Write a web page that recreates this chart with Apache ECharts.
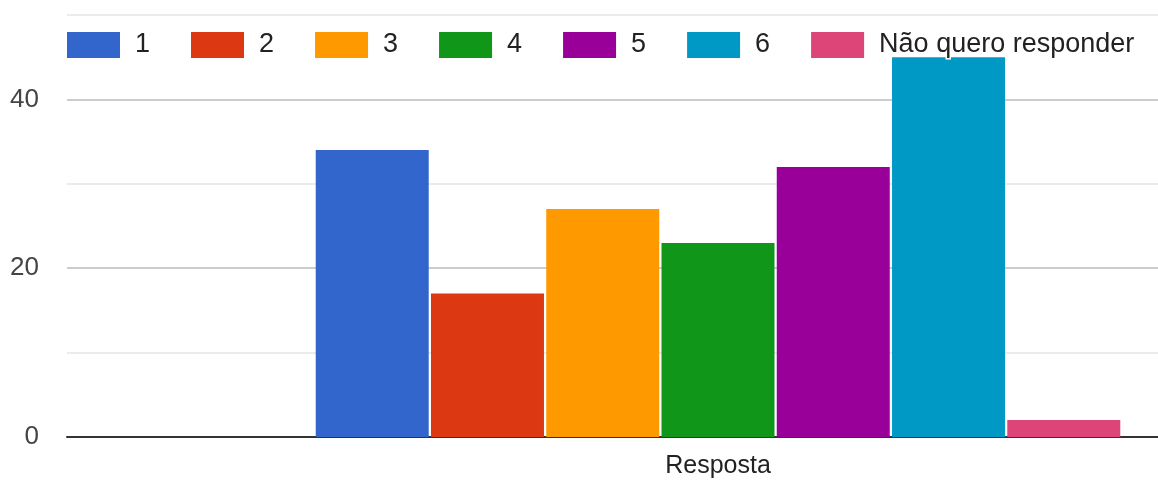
<!DOCTYPE html>
<html>
<head>
<meta charset="utf-8">
<script src="https://cdn.jsdelivr.net/npm/echarts@6/dist/echarts.min.js"></script>
<style>
  html, body { margin: 0; padding: 0; background: #fff; }
  #chart { width: 1158px; height: 480px; }
</style>
</head>
<body>
<div id="chart"></div>
<script>
// One question, answers counted per option
const categories = ['Resposta'];
const seriesNames = ['1', '2', '3', '4', '5', '6', 'Não quero responder'];
const seriesValues = [34, 17, 27, 23, 32, 45, 2];
const seriesColors = ['#3366cc', '#dc3912', '#ff9900', '#109618', '#990099', '#0099c6', '#dd4477'];
const yTicks = [0, 10, 20, 30, 40, 50];
const yLabelled = [0, 20, 40];

const FONT = '"Liberation Sans", Arial, sans-serif';

const chart = echarts.init(document.getElementById('chart'), null, { renderer: 'canvas' });

const series = seriesNames.map((name, i) => ({
  name: name,
  type: 'bar',
  data: [seriesValues[i]],
  barWidth: 113,
  barGap: '2%',
  itemStyle: { color: seriesColors[i] },
  emphasis: { disabled: true }
}));

chart.setOption({
  animation: false,
  color: seriesColors,
  textStyle: { fontFamily: FONT },
  legend: {
    left: 67,
    top: 30,
    padding: 0,
    icon: 'rect',
    itemWidth: 53,
    itemHeight: 26,
    itemGap: 39.5,
    data: seriesNames,
    textStyle: {
      fontFamily: FONT,
      fontSize: 27,
      lineHeight: 26,
      color: '#222',
      padding: [0, 0, 0, 10],
      textBorderColor: '#fff',
      textBorderWidth: 3
    }
  },
  // the plot runs past the right edge of the canvas, so the single
  // category's centre sits to the right of the visible middle
  grid: { left: 67, top: 15, width: 1302, height: 422, containLabel: false, outerBoundsMode: 'none' },
  xAxis: {
    type: 'category',
    data: categories,
    axisTick: { show: false },
    axisLine: { show: true, lineStyle: { color: '#333', width: 2 } },
    axisLabel: { color: '#222', fontSize: 25, fontFamily: FONT, margin: 17 },
    splitLine: { show: false }
  },
  yAxis: {
    type: 'value',
    min: yTicks[0],
    max: yTicks[yTicks.length - 1],
    interval: 10,
    axisLine: { show: false },
    axisTick: { show: false },
    axisLabel: {
      color: '#444',
      fontSize: 26,
      fontFamily: FONT,
      margin: 28,
      formatter: v => (yLabelled.includes(v) ? String(v) : '')
    },
    splitLine: { show: true, lineStyle: { color: ['#cccccc', '#ebebeb'], width: 2 } }
  },
  series: series
});
</script>
</body>
</html>
